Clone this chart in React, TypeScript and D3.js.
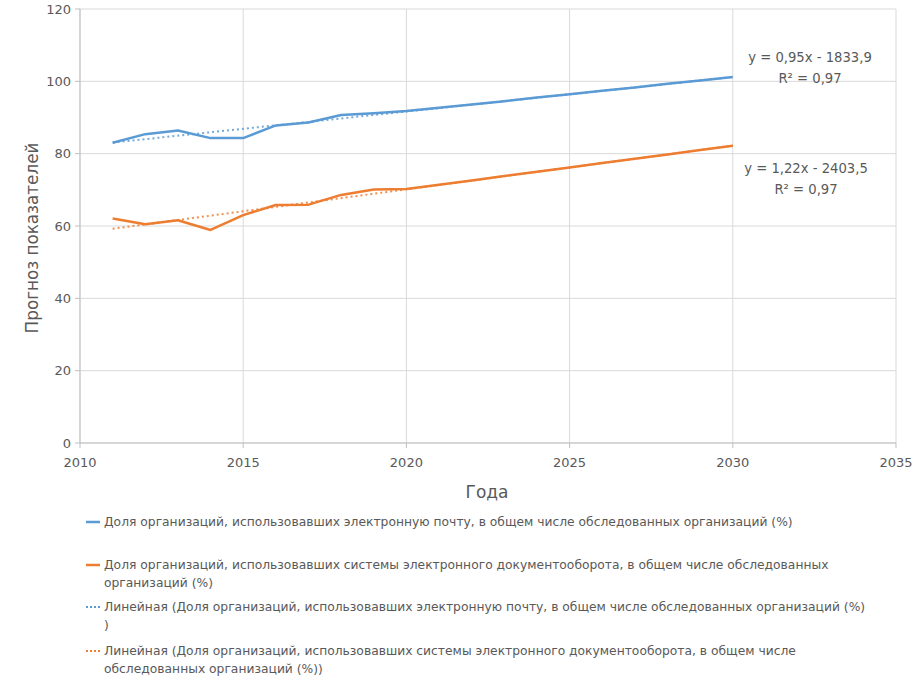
import React from 'react';
import * as d3 from 'd3';

const years = [2011, 2012, 2013, 2014, 2015, 2016, 2017, 2018, 2019, 2020, 2021, 2022, 2023, 2024, 2025, 2026, 2027, 2028, 2029, 2030];
const emailShare = [83.0, 85.4, 86.4, 84.3, 84.3, 87.8, 88.6, 90.7, 91.2, 91.8, 92.7, 93.6, 94.5, 95.5, 96.4, 97.4, 98.3, 99.3, 100.2, 101.2];
const edoShare = [62.1, 60.5, 61.6, 58.9, 63.0, 65.8, 65.9, 68.6, 70.1, 70.2, 71.4, 72.6, 73.8, 75.0, 76.2, 77.4, 78.6, 79.8, 81.0, 82.2];
const xTicks = [2010, 2015, 2020, 2025, 2030, 2035];
const yTicks = [0, 20, 40, 60, 80, 100, 120];
const equations = [
  ['y = 0,95x - 1833,9', 'R² = 0,97'],
  ['y = 1,22x - 2403,5', 'R² = 0,97'],
];
const legendItems = [
  ['Доля организаций, использовавших электронную почту, в общем числе обследованных организаций (%)'],
  ['Доля организаций, использовавших системы электронного документооборота, в общем числе обследованных', 'организаций (%)'],
  ['Линейная (Доля организаций, использовавших электронную почту, в общем числе обследованных организаций (%)', ')'],
  ['Линейная (Доля организаций, использовавших системы электронного документооборота, в общем числе', 'обследованных организаций (%))'],
];

const BLUE = '#5b9bd5';
const ORANGE = '#ed7d31';
const GRID = '#d9d9d9';
const TEXT = '#595959';
const FONT = '"DejaVu Sans", "Open Sans", sans-serif';

// least squares fit, same as Excel's linear trendline
function fit(xs: number[], ys: number[]) {
  const mx = d3.mean(xs)!;
  const my = d3.mean(ys)!;
  const num = d3.sum(xs, (x, i) => (x - mx) * (ys[i] - my));
  const den = d3.sum(xs, (x) => (x - mx) * (x - mx));
  const b = num / den;
  return { a: my - b * mx, b };
}

export default function App() {
  const width = 921;
  const height = 680;
  const x = d3.scaleLinear().domain([2010, 2035]).range([80, 896]);
  const y = d3.scaleLinear().domain([0, 120]).range([443, 9]);

  const line = d3.line<number>().x((_, i) => x(years[i])).y((d) => y(d));
  const series = [
    { values: emailShare, color: BLUE },
    { values: edoShare, color: ORANGE },
  ];
  const trends = series.map((s) => {
    const f = fit(years, s.values);
    const x0 = years[0];
    const x1 = years[years.length - 1];
    return { color: s.color, x0, x1, y0: f.a + f.b * x0, y1: f.a + f.b * x1 };
  });

  const eqPos = [
    { cx: 810, cy: 62 },
    { cx: 806, cy: 173 },
  ];

  const legendY = [522, 565, 607, 651];

  return (
    <svg width={width} height={height} style={{ position: 'absolute', left: 0, top: 0, background: '#fff' }} fontFamily={FONT}>
      <rect width={width} height={height} fill="#fff" />
      {xTicks.map((t) => (
        <line key={'vx' + t} x1={x(t)} x2={x(t)} y1={y(120)} y2={y(0)} stroke={GRID} strokeWidth={1} />
      ))}
      {yTicks.map((t) => (
        <line key={'hy' + t} x1={x(2010)} x2={x(2035)} y1={y(t)} y2={y(t)} stroke={GRID} strokeWidth={1} />
      ))}
      <line x1={x(2010)} x2={x(2010)} y1={y(120)} y2={y(0)} stroke="#bfbfbf" />
      <line x1={x(2010)} x2={x(2035)} y1={y(0)} y2={y(0)} stroke="#bfbfbf" />
      {yTicks.map((t) => (
        <line key={'ty' + t} x1={x(2010) - 5} x2={x(2010)} y1={y(t)} y2={y(t)} stroke="#bfbfbf" />
      ))}
      {xTicks.map((t) => (
        <line key={'tx' + t} x1={x(t)} x2={x(t)} y1={y(0)} y2={y(0) + 5} stroke="#bfbfbf" />
      ))}
      {yTicks.map((t) => (
        <text key={'ly' + t} x={x(2010) - 9} y={y(t)} dy="0.35em" textAnchor="end" fontSize={13} fill={TEXT}>
          {t}
        </text>
      ))}
      {xTicks.map((t) => (
        <text key={'lx' + t} x={x(t)} y={y(0) + 24} textAnchor="middle" fontSize={13} fill={TEXT}>
          {t}
        </text>
      ))}
      <text x={487} y={498} textAnchor="middle" fontSize={17} fill={TEXT}>Года</text>
      <text transform="translate(38,238) rotate(-90)" textAnchor="middle" fontSize={16.8} fill={TEXT}>
        Прогноз показателей
      </text>

      {series.map((s, i) => (
        <path key={'s' + i} d={line(s.values) || ''} fill="none" stroke={s.color} strokeWidth={2.5} strokeLinejoin="round" />
      ))}
      {trends.map((t, i) => (
        <line key={'t' + i} x1={x(t.x0)} y1={y(t.y0)} x2={x(t.x1)} y2={y(t.y1)} stroke={t.color} strokeWidth={2} strokeDasharray="2 3" opacity={0.85} />
      ))}

      {equations.map((eq, i) => (
        <g key={'eq' + i}>
          <text x={eqPos[i].cx} y={eqPos[i].cy} textAnchor="middle" fontSize={13.2} fill={TEXT}>{eq[0]}</text>
          <text x={eqPos[i].cx} y={eqPos[i].cy + 21} textAnchor="middle" fontSize={13.2} fill={TEXT}>{eq[1]}</text>
        </g>
      ))}

      {legendItems.map((lines, i) => {
        const color = i % 2 === 0 ? BLUE : ORANGE;
        const dotted = i >= 2;
        return (
          <g key={'lg' + i}>
            <line x1={86} x2={100} y1={legendY[i]} y2={legendY[i]} stroke={color} strokeWidth={dotted ? 2 : 2.5} strokeDasharray={dotted ? '2 2' : undefined} />
            {lines.map((l, j) => (
              <text key={j} x={104} y={legendY[i] + j * 18} dy="0.35em" fontSize={12.3} fill={TEXT}>{l}</text>
            ))}
          </g>
        );
      })}
    </svg>
  );
}
